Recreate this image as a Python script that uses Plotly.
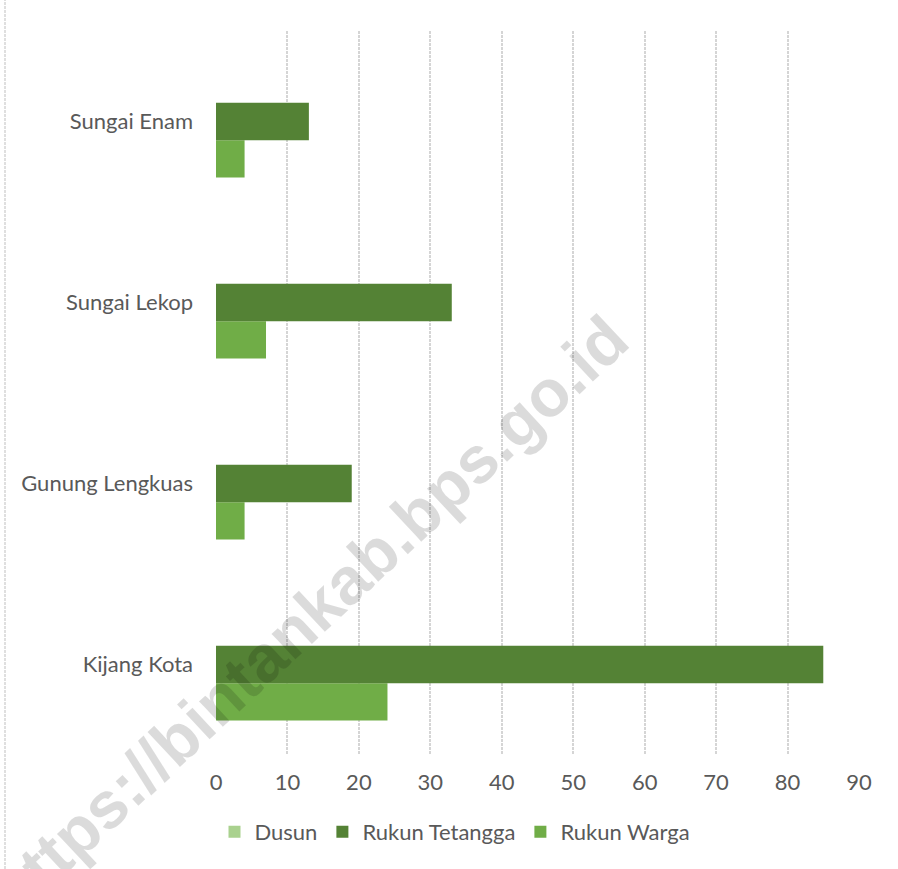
import plotly.graph_objects as go

categories = ["Kijang Kota", "Gunung Lengkuas", "Sungai Lekop", "Sungai Enam"]
dusun = [0, 0, 0, 0]
rukun_tetangga = [85, 19, 33, 13]
rukun_warga = [24, 4, 7, 4]
x_ticks = [0, 10, 20, 30, 40, 50, 60, 70, 80, 90]

W, H = 898, 869
L, R, T, B = 216, 39, 31, 114
PW, PH = W - L - R, H - T - B

def px_x(p):
    return (p - L) / PW

def px_y(p):
    return (H - B - p) / PH

fig = go.Figure()
# added in reverse so Dusun sits at the top of each group (Excel style)
fig.add_trace(go.Bar(name="Rukun Warga", y=categories, x=rukun_warga, orientation="h",
                     marker=dict(color="#70AD47", line=dict(width=0))))
fig.add_trace(go.Bar(name="Rukun Tetangga", y=categories, x=rukun_tetangga, orientation="h",
                     marker=dict(color="#548235", line=dict(width=0))))
fig.add_trace(go.Bar(name="Dusun", y=categories, x=dusun, orientation="h",
                     marker=dict(color="#A9D18E", line=dict(width=0))))

font_family = "Lato, Open Sans, sans-serif"
text_col = "#595959"
grid_col = "#d5d5d5"
fig.update_layout(
    width=W, height=H,
    margin=dict(l=L, r=R, t=T, b=B, autoexpand=False),
    paper_bgcolor="white", plot_bgcolor="white",
    barmode="group", bargap=0.38, bargroupgap=0,
    font=dict(family=font_family, size=22, color=text_col),
    showlegend=True,
    legend=dict(orientation="h", traceorder="reversed", x=px_x(455), xanchor="center",
                y=px_y(832), yanchor="middle", font=dict(size=22, color=text_col),
                itemwidth=30, tracegroupgap=0),
    xaxis=dict(range=[0, 90], tickvals=x_ticks, showgrid=True, gridcolor=grid_col,
               griddash="3px,1px", gridwidth=1.5, zeroline=False, showline=False,
               ticks="", ticklabelstandoff=12, tickfont=dict(size=22, color=text_col),
               fixedrange=True),
    yaxis=dict(showgrid=False, zeroline=False, showline=False, ticks="",
               ticklabelstandoff=22, tickfont=dict(size=22, color=text_col),
               categoryorder="array", categoryarray=categories, fixedrange=True),
    shapes=[dict(type="line", xref="paper", yref="paper",
                 x0=px_x(5), x1=px_x(5), y0=px_y(H), y1=px_y(0),
                 line=dict(color=grid_col, width=1.5, dash="3px,1px"))],
)

fig.add_annotation(
    text="https://bintankab.bps.go.id", xref="paper", yref="paper",
    x=px_x(308), y=px_y(616), xanchor="center", yanchor="middle",
    showarrow=False, textangle=-43,
    font=dict(family="Liberation Sans, Arial, sans-serif", size=66,
              color="rgba(0,0,0,0.14)", weight="bold"),
)

fig.write_html("out.html", config={"displayModeBar": False},
               post_script="document.body.style.margin='0';")
